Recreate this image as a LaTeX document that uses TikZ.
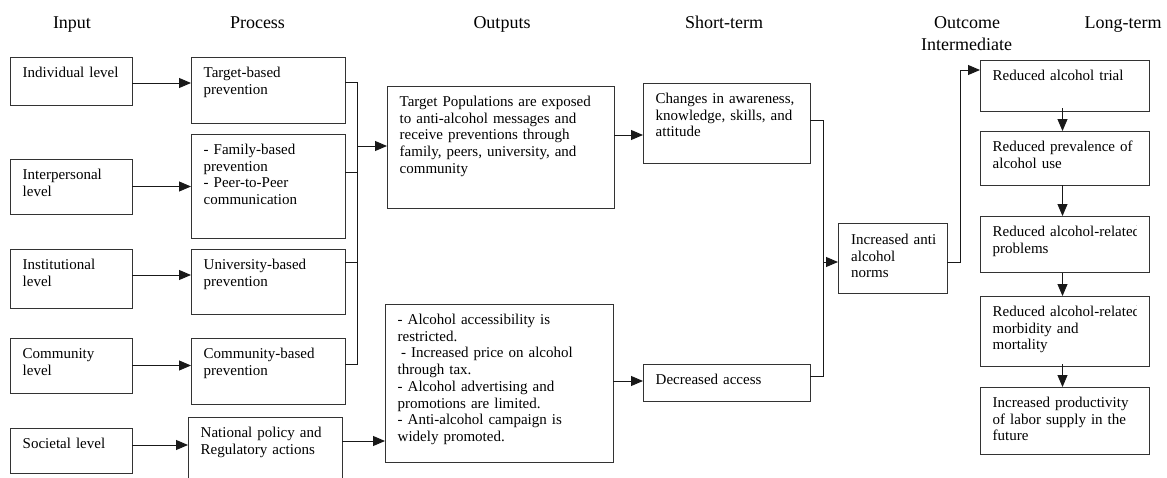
\documentclass[tikz,border=0pt]{standalone}
\usepackage{fontspec}
\setmainfont{Liberation Serif}
\usetikzlibrary{arrows.meta}
\begin{document}
\begin{tikzpicture}[x=1pt,y=-1pt,
  box/.style={draw=black!80, line width=0.9pt, anchor=north west, inner sep=0pt, outer sep=0pt},
  txt/.style={anchor=base west, align=left, inner sep=0pt, text width=240pt, font=\fontsize{15}{16.7}\selectfont},
  hdr/.style={anchor=base, inner sep=0pt, font=\fontsize{18}{20}\selectfont},
  arr/.style={draw=black!90, line width=0.9pt, -{Triangle[length=12pt,width=10pt]}},
  ln/.style={draw=black!90, line width=0.9pt}]
\useasboundingbox (0,0) rectangle (1167,477);
\clip (0,0) rectangle (1167,477);
% headers
\node[hdr] (h1) at (72,28) {Input};
\node[hdr] (h2) at (257.5,28) {Process};
\node[hdr] (h3) at (502,28) {Outputs};
\node[hdr] (h4) at (724,28) {Short-term};
\node[hdr] (h5) at (967,28) {Outcome};
\node[hdr] (h6) at (966.5,50) {Intermediate};
\node[hdr] (h7) at (1123,28) {Long-term};
% input boxes
\node[box, minimum width=122pt, minimum height=48pt] (in1) at (10,57) {};
\node[box, minimum width=122pt, minimum height=55pt] (in2) at (10,159) {};
\node[box, minimum width=122pt, minimum height=59pt] (in3) at (10,249) {};
\node[box, minimum width=122pt, minimum height=55pt] (in4) at (10,338) {};
\node[box, minimum width=122pt, minimum height=45pt] (in5) at (10,428) {};
\node[txt] (tin1) at (22.5,77.5) {Individual level};
\node[txt] (tin2) at (22.5,179.5) {Interpersonal\\level};
\node[txt] (tin3) at (22.5,269.5) {Institutional\\level};
\node[txt] (tin4) at (22.5,358.5) {Community\\level};
\node[txt] (tin5) at (22.5,448.5) {Societal level};
% process boxes
\node[box, minimum width=154pt, minimum height=66pt] (pr1) at (191,57) {};
\node[box, minimum width=154pt, minimum height=104pt] (pr2) at (191,134) {};
\node[box, minimum width=154pt, minimum height=65pt] (pr3) at (191,249) {};
\node[box, minimum width=154pt, minimum height=66pt] (pr4) at (191,338) {};
\node[box, minimum width=154pt, minimum height=90pt] (pr5) at (188,417) {};
\node[txt] (tpr1) at (203.5,77.5) {Target-based\\prevention};
\node[txt] (tpr2) at (203.5,154.5) {- Family-based\\prevention\\- Peer-to-Peer\\communication};
\node[txt] (tpr3) at (203.5,269.5) {University-based\\prevention};
\node[txt] (tpr4) at (203.5,358.5) {Community-based\\prevention};
\node[txt] (tpr5) at (200.5,437.5) {National policy and\\Regulatory actions};
% outputs
\node[box, minimum width=227pt, minimum height=122pt] (out1) at (387,86) {};
\node[box, minimum width=228pt, minimum height=158pt] (out2) at (385,304) {};
\node[txt] (tout1) at (399.5,106.5) {Target Populations are exposed\\to anti-alcohol messages and\\receive preventions through\\family, peers, university, and\\community};
\node[txt] (tout2) at (397.5,324.5) {- Alcohol accessibility is\\restricted.\\\hspace*{3.5pt}- Increased price on alcohol\\through tax.\\- Alcohol advertising and\\promotions are limited.\\- Anti-alcohol campaign is\\widely promoted.};
% short-term
\node[box, minimum width=167pt, minimum height=80pt] (st1) at (643,83) {};
\node[box, minimum width=167pt, minimum height=37pt] (st2) at (643,364) {};
\node[txt] (tst1) at (655.5,103.5) {Changes in awareness,\\knowledge, skills, and\\attitude};
\node[txt] (tst2) at (655.5,384.5) {Decreased access};
% intermediate
\node[box, minimum width=109pt, minimum height=70pt] (norms) at (838,223) {};
\node[txt] (tnorms) at (851,244.5) {Increased anti\\alcohol\\norms};
% long-term
\node[box, minimum width=169pt, minimum height=51pt] (lt1) at (980,60) {};
\node[box, minimum width=169pt, minimum height=54pt] (lt2) at (980,131) {};
\node[box, minimum width=169pt, minimum height=56pt] (lt3) at (980,216) {};
\node[box, minimum width=169pt, minimum height=70pt] (lt4) at (980,296) {};
\node[box, minimum width=169pt, minimum height=67pt] (lt5) at (980,387) {};
\node[txt] (tlt1) at (992.5,80.5) {Reduced alcohol trial};
\node[txt] (tlt2) at (992.5,151.5) {Reduced prevalence of\\alcohol use};
\begin{scope}
\clip (980,216) rectangle (1136.5,272);
\node[txt] (tlt3) at (992.5,236.5) {Reduced alcohol-related\\problems};
\end{scope}
\begin{scope}
\clip (980,296) rectangle (1136.5,366);
\node[txt] (tlt4) at (992.5,316.5) {Reduced alcohol-related\\morbidity and\\mortality};
\end{scope}
\node[txt] (tlt5) at (992.5,407.5) {Increased productivity\\of labor supply in the\\future};
% connectors input -> process
\draw[arr] ([yshift=-2pt]in1.east) -- ([yshift=-2pt]in1.east -| pr1.west);
\draw[arr] (in2.east) -- (in2.east -| pr2.west);
\draw[arr] ([yshift=3.5pt]in3.east) -- ([yshift=3.5pt]in3.east -| pr3.west);
\draw[arr] (in4.east) -- (in4.east -| pr4.west);
\draw[arr] ([yshift=5.5pt]in5.east) -- ([yshift=5.5pt]in5.east -| pr5.west);
% bracket to outputs
\coordinate (bus) at (357,146);
\draw[ln] ([yshift=8pt]pr1.east) -| (bus);
\draw[ln] ([yshift=14pt]pr2.east) -| (bus);
\draw[ln] ([yshift=19.5pt]pr3.east) -| (bus);
\draw[ln] ([yshift=7pt]pr4.east) -| (bus);
\draw[arr] (bus) -- (bus -| out1.west);
\draw[arr] ([yshift=21pt]pr5.east) -- ([yshift=21pt]pr5.east -| out2.west);
% outputs -> short-term
\draw[arr] ([yshift=12pt]out1.east) -- ([yshift=12pt]out1.east -| st1.west);
\draw[arr] ([yshift=2pt]out2.east) -- ([yshift=2pt]out2.east -| st2.west);
% short-term -> norms
\coordinate (bus2) at (823,262);
\draw[ln] ([yshift=3pt]st1.east) -| (bus2);
\draw[ln] ([yshift=6.5pt]st2.east) -| (bus2);
\draw[arr] (bus2) -- (bus2 -| norms.west);
% norms -> long-term
\coordinate (bus3) at (960,70);
\draw[arr] ([yshift=-4pt]norms.east) -| (bus3) -- (bus3 -| lt1.west);
% long-term chain
\draw[arr] ([xshift=-2pt,yshift=3pt]lt1.south) -- ([xshift=-2pt]lt2.north);
\draw[arr] ([xshift=-2pt]lt2.south) -- ([xshift=-2pt]lt3.north);
\draw[arr] ([xshift=-2pt,yshift=-1pt]lt3.south) -- ([xshift=-2pt]lt4.north);
\draw[arr] ([xshift=-2pt,yshift=2pt]lt4.south) -- ([xshift=-2pt]lt5.north);
\end{tikzpicture}
\end{document}
